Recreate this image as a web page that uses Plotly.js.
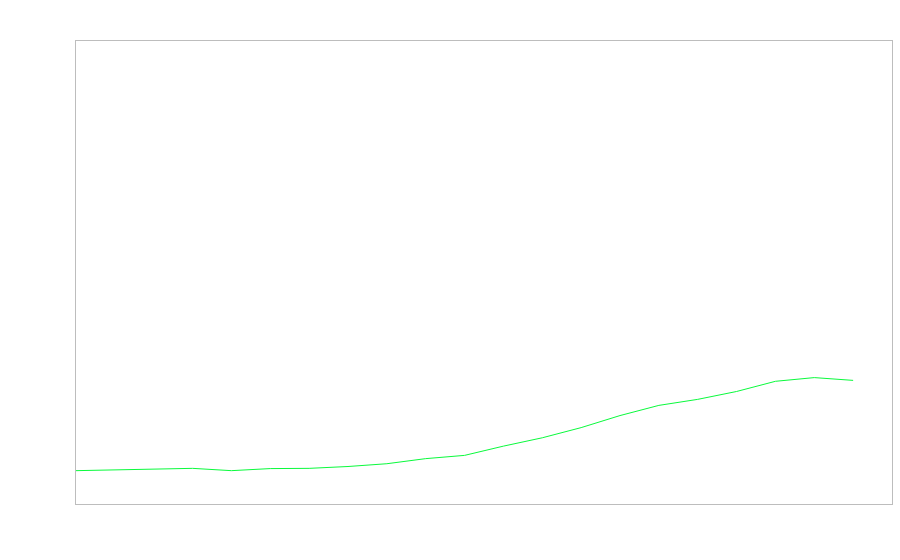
<!DOCTYPE html>
<html>
<head>
<meta charset="utf-8">
<script src="https://cdn.plot.ly/plotly-3.0.1.min.js"></script>
<style>html,body{margin:0;padding:0;background:#fff;}#chart{width:900px;height:560px;}</style>
</head>
<body>
<div id="chart"></div>
<script>
var years = [2000,2001,2002,2003,2004,2005,2006,2007,2008,2009,2010,2011,2012,2013,2014,2015,2016,2017,2018,2019,2020];
var values = [7.2,7.4,7.5,7.7,7.2,7.65,7.7,8.1,8.7,9.8,10.5,12.5,14.3,16.5,19.1,21.3,22.6,24.3,26.5,27.3,26.7];

Plotly.newPlot('chart', [{
  x: years,
  y: values,
  type: 'scatter',
  mode: 'lines',
  line: {color: 'rgb(10,250,60)', width: 1},
  showlegend: false,
  hoverinfo: 'skip'
}], {
  width: 900,
  height: 560,
  margin: {l: 76, r: 8, t: 41, b: 56, pad: 0},
  paper_bgcolor: '#ffffff',
  plot_bgcolor: '#ffffff',
  xaxis: {range: [2000, 2021], showgrid: false, zeroline: false, showticklabels: false, ticks: '',
          showline: true, mirror: true, linecolor: '#bdbdbd', linewidth: 1},
  yaxis: {range: [0, 100], showgrid: false, zeroline: false, showticklabels: false, ticks: '',
          showline: true, mirror: true, linecolor: '#bdbdbd', linewidth: 1}
}, {displayModeBar: false, staticPlot: true});
</script>
</body>
</html>
